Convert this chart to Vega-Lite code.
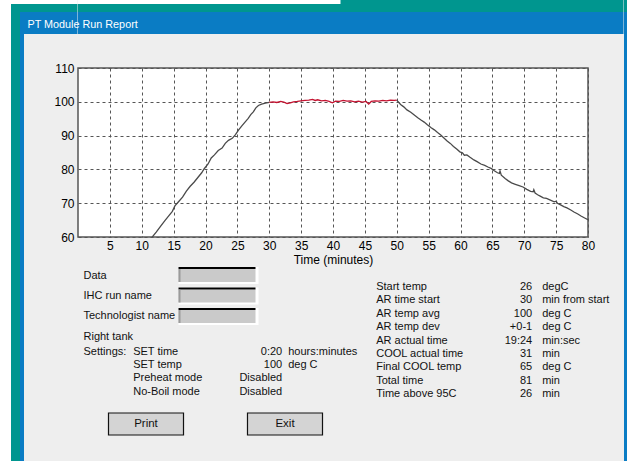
{
  "$schema": "https://vega.github.io/schema/vega-lite/v6.json",
  "padding": 0,
  "background": "#EEEEEE",
  "spacing": 0,
  "bounds": "flush",
  "align": "each",
  "columns": 7,
  "config": {"concat": {"spacing": 0}, "view": {"stroke": null}, "font": "Liberation Sans"},
  "datasets": {
    "temps": [
      {"time": 11.3, "temp": 59.3, "phase": "ramp"}, {"time": 11.65, "temp": 60.0, "phase": "ramp"}, {"time": 12.3, "temp": 61.5, "phase": "ramp"}, {"time": 13.0, "temp": 63.3, "phase": "ramp"}, {"time": 13.6, "temp": 64.8, "phase": "ramp"}, {"time": 14.2, "temp": 66.2, "phase": "ramp"}, {"time": 14.8, "temp": 67.6, "phase": "ramp"}, {"time": 15.2, "temp": 69.2, "phase": "ramp"}, {"time": 15.8, "temp": 70.5, "phase": "ramp"}, {"time": 16.4, "temp": 71.8, "phase": "ramp"}, {"time": 17.0, "temp": 73.6, "phase": "ramp"}, {"time": 17.6, "temp": 75.0, "phase": "ramp"}, {"time": 18.2, "temp": 76.2, "phase": "ramp"}, {"time": 18.8, "temp": 77.6, "phase": "ramp"}, {"time": 19.4, "temp": 79.0, "phase": "ramp"}, {"time": 19.8, "temp": 80.2, "phase": "ramp"}, {"time": 20.4, "temp": 81.6, "phase": "ramp"}, {"time": 20.9, "temp": 83.4, "phase": "ramp"}, {"time": 21.4, "temp": 84.3, "phase": "ramp"}, {"time": 22.0, "temp": 85.6, "phase": "ramp"}, {"time": 22.6, "temp": 86.3, "phase": "ramp"}, {"time": 23.1, "temp": 87.7, "phase": "ramp"}, {"time": 23.6, "temp": 88.6, "phase": "ramp"}, {"time": 24.2, "temp": 89.2, "phase": "ramp"}, {"time": 24.7, "temp": 90.3, "phase": "ramp"}, {"time": 25.2, "temp": 91.7, "phase": "ramp"}, {"time": 25.7, "temp": 92.9, "phase": "ramp"}, {"time": 26.2, "temp": 94.0, "phase": "ramp"}, {"time": 26.7, "temp": 95.1, "phase": "ramp"}, {"time": 27.1, "temp": 96.2, "phase": "ramp"}, {"time": 27.5, "temp": 97.0, "phase": "ramp"}, {"time": 27.9, "temp": 98.2, "phase": "ramp"}, {"time": 28.3, "temp": 98.9, "phase": "ramp"}, {"time": 28.8, "temp": 99.3, "phase": "ramp"}, {"time": 29.4, "temp": 99.6, "phase": "ramp"}, {"time": 30.0, "temp": 99.8, "phase": "ramp"},
      {"time": 30.0, "temp": 99.8, "phase": "hold"}, {"time": 30.6, "temp": 100.0, "phase": "hold"}, {"time": 31.2, "temp": 99.8, "phase": "hold"}, {"time": 31.8, "temp": 100.1, "phase": "hold"}, {"time": 32.3, "temp": 99.9, "phase": "hold"}, {"time": 32.8, "temp": 99.5, "phase": "hold"}, {"time": 33.3, "temp": 99.7, "phase": "hold"}, {"time": 33.8, "temp": 100.0, "phase": "hold"}, {"time": 34.4, "temp": 100.1, "phase": "hold"}, {"time": 35.0, "temp": 100.3, "phase": "hold"}, {"time": 35.6, "temp": 100.4, "phase": "hold"}, {"time": 36.2, "temp": 100.5, "phase": "hold"}, {"time": 36.8, "temp": 100.7, "phase": "hold"}, {"time": 37.2, "temp": 100.4, "phase": "hold"}, {"time": 37.6, "temp": 100.6, "phase": "hold"}, {"time": 38.2, "temp": 100.3, "phase": "hold"}, {"time": 38.8, "temp": 100.4, "phase": "hold"}, {"time": 39.4, "temp": 100.1, "phase": "hold"}, {"time": 39.9, "temp": 99.7, "phase": "hold"}, {"time": 40.4, "temp": 100.2, "phase": "hold"}, {"time": 41.0, "temp": 100.1, "phase": "hold"}, {"time": 41.6, "temp": 100.4, "phase": "hold"}, {"time": 42.2, "temp": 100.2, "phase": "hold"}, {"time": 42.8, "temp": 100.3, "phase": "hold"}, {"time": 43.4, "temp": 100.0, "phase": "hold"}, {"time": 44.0, "temp": 100.2, "phase": "hold"}, {"time": 44.6, "temp": 99.9, "phase": "hold"}, {"time": 45.2, "temp": 100.1, "phase": "hold"}, {"time": 45.6, "temp": 99.3, "phase": "hold"}, {"time": 46.0, "temp": 100.1, "phase": "hold"}, {"time": 46.6, "temp": 100.3, "phase": "hold"}, {"time": 47.2, "temp": 100.2, "phase": "hold"}, {"time": 47.8, "temp": 100.4, "phase": "hold"}, {"time": 48.4, "temp": 100.3, "phase": "hold"}, {"time": 49.0, "temp": 100.5, "phase": "hold"}, {"time": 49.6, "temp": 100.4, "phase": "hold"}, {"time": 50.0, "temp": 100.5, "phase": "hold"},
      {"time": 50.0, "temp": 100.5, "phase": "cool"}, {"time": 50.6, "temp": 99.2, "phase": "cool"}, {"time": 51.1, "temp": 98.5, "phase": "cool"}, {"time": 51.6, "temp": 97.6, "phase": "cool"}, {"time": 52.2, "temp": 96.9, "phase": "cool"}, {"time": 52.7, "temp": 96.2, "phase": "cool"}, {"time": 53.3, "temp": 95.3, "phase": "cool"}, {"time": 53.8, "temp": 94.6, "phase": "cool"}, {"time": 54.3, "temp": 94.0, "phase": "cool"}, {"time": 54.8, "temp": 93.2, "phase": "cool"}, {"time": 55.4, "temp": 92.3, "phase": "cool"}, {"time": 55.9, "temp": 91.7, "phase": "cool"}, {"time": 56.4, "temp": 90.9, "phase": "cool"}, {"time": 56.9, "temp": 90.2, "phase": "cool"}, {"time": 57.4, "temp": 89.3, "phase": "cool"}, {"time": 57.9, "temp": 88.4, "phase": "cool"}, {"time": 58.4, "temp": 87.7, "phase": "cool"}, {"time": 58.9, "temp": 86.8, "phase": "cool"}, {"time": 59.4, "temp": 86.0, "phase": "cool"}, {"time": 59.9, "temp": 85.2, "phase": "cool"}, {"time": 60.3, "temp": 84.9, "phase": "cool"}, {"time": 60.6, "temp": 84.2, "phase": "cool"}, {"time": 61.0, "temp": 84.3, "phase": "cool"}, {"time": 61.5, "temp": 83.6, "phase": "cool"}, {"time": 62.1, "temp": 82.8, "phase": "cool"}, {"time": 62.6, "temp": 82.3, "phase": "cool"}, {"time": 63.2, "temp": 81.6, "phase": "cool"}, {"time": 63.8, "temp": 81.2, "phase": "cool"}, {"time": 64.3, "temp": 80.7, "phase": "cool"}, {"time": 64.8, "temp": 80.3, "phase": "cool"}, {"time": 65.3, "temp": 79.6, "phase": "cool"}, {"time": 65.8, "temp": 79.0, "phase": "cool"}, {"time": 66.1, "temp": 78.8, "phase": "cool"}, {"time": 66.2, "temp": 79.5, "phase": "cool"}, {"time": 66.4, "temp": 78.3, "phase": "cool"}, {"time": 67.0, "temp": 77.3, "phase": "cool"}, {"time": 67.5, "temp": 76.6, "phase": "cool"}, {"time": 68.0, "temp": 76.0, "phase": "cool"}, {"time": 68.6, "temp": 75.6, "phase": "cool"}, {"time": 69.2, "temp": 75.2, "phase": "cool"}, {"time": 69.8, "temp": 74.8, "phase": "cool"}, {"time": 70.4, "temp": 74.1, "phase": "cool"}, {"time": 71.0, "temp": 73.5, "phase": "cool"}, {"time": 71.4, "temp": 73.4, "phase": "cool"}, {"time": 71.5, "temp": 74.0, "phase": "cool"}, {"time": 71.7, "temp": 73.0, "phase": "cool"}, {"time": 72.1, "temp": 72.5, "phase": "cool"}, {"time": 72.5, "temp": 72.1, "phase": "cool"}, {"time": 73.0, "temp": 71.6, "phase": "cool"}, {"time": 73.5, "temp": 71.4, "phase": "cool"}, {"time": 74.1, "temp": 70.9, "phase": "cool"}, {"time": 74.7, "temp": 70.4, "phase": "cool"}, {"time": 75.0, "temp": 70.6, "phase": "cool"}, {"time": 75.2, "temp": 70.0, "phase": "cool"}, {"time": 75.7, "temp": 69.5, "phase": "cool"}, {"time": 76.2, "temp": 69.0, "phase": "cool"}, {"time": 76.7, "temp": 68.6, "phase": "cool"}, {"time": 77.3, "temp": 68.0, "phase": "cool"}, {"time": 77.8, "temp": 67.4, "phase": "cool"}, {"time": 78.4, "temp": 66.8, "phase": "cool"}, {"time": 78.9, "temp": 66.2, "phase": "cool"}, {"time": 79.4, "temp": 65.7, "phase": "cool"}, {"time": 80.0, "temp": 65.1, "phase": "cool"}
    ],
    "fields": [{"r": 0, "label": "Data"}, {"r": 1, "label": "IHC run name"}, {"r": 2, "label": "Technologist name"}],
    "tank": [{"r": 0, "label": "Right tank"}, {"r": 1, "label": "Settings:"}],
    "settings": [
      {"r": 0, "setting": "SET time", "value": "0:20", "unit": "hours:minutes"},
      {"r": 1, "setting": "SET temp", "value": "100", "unit": "deg C"},
      {"r": 2, "setting": "Preheat mode", "value": "Disabled", "unit": ""},
      {"r": 3, "setting": "No-Boil mode", "value": "Disabled", "unit": ""}
    ],
    "stats": [
      {"r": 0, "label": "Start temp", "value": "26", "unit": "degC"},
      {"r": 1, "label": "AR time start", "value": "30", "unit": "min from start"},
      {"r": 2, "label": "AR temp avg", "value": "100", "unit": "deg C"},
      {"r": 3, "label": "AR temp dev", "value": "+0-1", "unit": "deg C"},
      {"r": 4, "label": "AR actual time", "value": "19:24", "unit": "min:sec"},
      {"r": 5, "label": "COOL actual time", "value": "31", "unit": "min"},
      {"r": 6, "label": "Final COOL temp", "value": "65", "unit": "deg C"},
      {"r": 7, "label": "Total time", "value": "81", "unit": "min"},
      {"r": 8, "label": "Time above 95C", "value": "26", "unit": "min"}
    ],
    "buttons": [{"b": "Print"}, {"b": "Exit"}],
    "window": [{"title": "PT Module Run Report"}],
    "desktop": [{"part": "desktop"}]
  },
  "concat": [
    {"width": 11, "height": 4, "data": {"values": []}, "mark": "point", "view": {"fill": "#FFFFFF", "stroke": null}},
    {"width": 9, "height": 4, "data": {"values": []}, "mark": "point", "view": {"fill": "#FFFFFF", "stroke": null}},
    {"width": 4, "height": 4, "data": {"values": []}, "mark": "point", "view": {"fill": "#FFFFFF", "stroke": null}},
    {"width": 53.5, "height": 4, "data": {"values": []}, "mark": "point", "view": {"fill": "#FFFFFF", "stroke": null}},
    {"width": 510, "height": 4, "data": {"name": "desktop"}, "view": {"fill": "#FFFFFF", "stroke": null},
     "mark": {"type": "rect", "color": "#00968F"},
     "encoding": {
       "x": {"datum": 0, "type": "quantitative", "scale": {"domain": [0, 1], "range": [262.5, 510]}, "axis": null},
       "x2": {"datum": 1},
       "y": {"datum": 0, "type": "quantitative", "scale": {"domain": [0, 1], "range": [0, 4]}, "axis": null},
       "y2": {"datum": 1}
     }},
    {"width": 35.5, "height": 4, "data": {"values": []}, "mark": "point", "view": {"fill": "#00968F", "stroke": null}},
    {"width": 4, "height": 4, "data": {"values": []}, "mark": "point", "view": {"fill": "#00968F", "stroke": null}},

    {"width": 11, "height": 8, "data": {"values": []}, "mark": "point", "view": {"fill": "#FFFFFF", "stroke": null}},
    {"width": 9, "height": 8, "data": {"values": []}, "mark": "point", "view": {"fill": "#00968F", "stroke": null}},
    {"width": 4, "height": 8, "data": {"values": []}, "mark": "point", "view": {"fill": "#00968F", "stroke": null}},
    {"width": 53.5, "height": 8, "data": {"values": []}, "mark": "point", "view": {"fill": "#00968F", "stroke": null}},
    {"width": 510, "height": 8, "data": {"values": []}, "mark": "point", "view": {"fill": "#00968F", "stroke": null}},
    {"width": 35.5, "height": 8, "data": {"values": []}, "mark": "point", "view": {"fill": "#00968F", "stroke": null}},
    {"width": 4, "height": 8, "data": {"values": []}, "mark": "point", "view": {"fill": "#00968F", "stroke": null}},

    {"width": 11, "height": 22, "data": {"values": []}, "mark": "point", "view": {"fill": "#FFFFFF", "stroke": null}},
    {"width": 9, "height": 22, "data": {"values": []}, "mark": "point", "view": {"fill": "#00968F", "stroke": null}},
    {"width": 4, "height": 22, "data": {"values": []}, "mark": "point", "view": {"fill": "#0A7CC4", "stroke": null}},
    {"width": 53.5, "height": 22, "data": {"values": []}, "mark": "point", "view": {"fill": "#0A7CC4", "stroke": null}},
    {"width": 510, "height": 22, "data": {"name": "window"},
     "mark": {"type": "text", "align": "left", "baseline": "middle", "color": "#FFFFFF", "fontSize": 10.8},
     "encoding": {
       "text": {"field": "title"},
       "x": {"field": "title", "type": "nominal", "scale": {"type": "point", "range": [-50.5, -50.5]}, "axis": null},
       "y": {"field": "title", "type": "nominal", "scale": {"type": "point", "range": [13, 13]}, "axis": null}
     },
     "view": {"fill": "#0A7CC4", "stroke": null}},
    {"width": 35.5, "height": 22, "data": {"values": []}, "mark": "point", "view": {"fill": "#0A7CC4", "stroke": null}},
    {"width": 4, "height": 22, "data": {"values": []}, "mark": "point", "view": {"fill": "#0A7CC4", "stroke": null}},

    {"width": 11, "height": 34, "data": {"values": []}, "mark": "point", "view": {"fill": "#FFFFFF", "stroke": null}},
    {"width": 9, "height": 34, "data": {"values": []}, "mark": "point", "view": {"fill": "#00968F", "stroke": null}},
    {"width": 4, "height": 34, "data": {"values": []}, "mark": "point", "view": {"fill": "#0A7CC4", "stroke": null}},
    {"width": 53.5, "height": 34, "data": {"values": []}, "mark": "point", "view": {"stroke": null}},
    {"width": 510, "height": 34, "data": {"values": []}, "mark": "point", "view": {"stroke": null}},
    {"width": 35.5, "height": 34, "data": {"values": []}, "mark": "point", "view": {"stroke": null}},
    {"width": 4, "height": 34, "data": {"values": []}, "mark": "point", "view": {"fill": "#0A7CC4", "stroke": null}},

    {"width": 11, "height": 169, "data": {"values": []}, "mark": "point", "view": {"fill": "#FFFFFF", "stroke": null}},
    {"width": 9, "height": 169, "data": {"values": []}, "mark": "point", "view": {"fill": "#00968F", "stroke": null}},
    {"width": 4, "height": 169, "data": {"values": []}, "mark": "point", "view": {"fill": "#0A7CC4", "stroke": null}},
    {"width": 53.5, "height": 169, "data": {"values": []}, "mark": "point", "view": {"stroke": null}},
    {
      "width": 510, "height": 169,
      "data": {"name": "temps"},
      "mark": {"type": "line", "clip": true, "strokeWidth": 1.3},
      "encoding": {
        "x": {"field": "time", "type": "quantitative",
          "scale": {"domain": [0, 80], "nice": false, "zero": false},
          "axis": {"title": "Time (minutes)", "values": [5, 10, 15, 20, 25, 30, 35, 40, 45, 50, 55, 60, 65, 70, 75, 80],
            "domain": false, "ticks": false, "grid": true, "gridColor": "#555555", "gridDash": [3, 3], "gridWidth": 1, "gridOpacity": 1,
            "labelFontSize": 12, "labelColor": "#000000", "labelPadding": 3, "labelFlush": false, "labelOverlap": false,
            "titleFontSize": 12, "titleFontWeight": "normal", "titleColor": "#000000", "titlePadding": 3}},
        "y": {"field": "temp", "type": "quantitative",
          "scale": {"domain": [60, 110], "nice": false, "zero": false},
          "axis": {"title": null, "values": [60, 70, 80, 90, 100, 110],
            "domain": false, "ticks": false, "grid": true, "gridColor": "#555555", "gridDash": [3, 3], "gridWidth": 1, "gridOpacity": 1,
            "labelFontSize": 12, "labelColor": "#000000", "labelPadding": 4}},
        "color": {"field": "phase", "type": "nominal", "scale": {"domain": ["ramp", "hold", "cool"], "range": ["#4A4A4A", "#C41230", "#4A4A4A"]}, "legend": null}
      },
      "view": {"fill": "#FFFFFF", "stroke": "#555555", "strokeWidth": 1.5}
    },
    {"width": 35.5, "height": 169, "data": {"values": []}, "mark": "point", "view": {"stroke": null}},
    {"width": 4, "height": 169, "data": {"values": []}, "mark": "point", "view": {"fill": "#0A7CC4", "stroke": null}},

    {"width": 11, "height": 224, "data": {"values": []}, "mark": "point", "view": {"fill": "#FFFFFF", "stroke": null}},
    {"width": 9, "height": 224, "data": {"values": []}, "mark": "point", "view": {"fill": "#00968F", "stroke": null}},
    {"width": 4, "height": 224, "data": {"values": []}, "mark": "point", "view": {"fill": "#0A7CC4", "stroke": null}},
    {"width": 53.5, "height": 224, "data": {"values": []}, "mark": "point", "view": {"stroke": null}},
    {
      "width": 510, "height": 224,
      "view": {"stroke": null},
      "resolve": {"scale": {"x": "independent", "y": "independent"}},
      "layer": [
        {
          "data": {"name": "fields"},
          "encoding": {
            "x": {"datum": 0, "type": "quantitative", "scale": {"domain": [0, 1], "range": [100.5, 180.5]}, "axis": null},
            "x2": {"datum": 1},
            "y": {"field": "r", "type": "quantitative", "scale": {"domain": [0, 2], "range": [30, 71], "nice": false, "zero": false}, "axis": null},
            "y2": {"field": "r"}
          },
          "layer": [
            {"mark": {"type": "rect", "color": "#FFFFFF", "y2Offset": 17}},
            {"mark": {"type": "rect", "color": "#CACACA", "yOffset": 2, "y2Offset": 15, "x2Offset": -3}},
            {"mark": {"type": "rect", "color": "#000000", "y2Offset": 2, "x2Offset": -3}},
            {"mark": {"type": "rect", "color": "#9A9A9A", "yOffset": 2, "y2Offset": 15, "x2Offset": -78}}
          ]
        },
        {
          "data": {"name": "fields"},
          "mark": {"type": "text", "align": "left", "baseline": "middle", "fontSize": 11, "color": "#111111"},
          "encoding": {
            "text": {"field": "label"},
            "x": {"field": "label", "type": "nominal", "scale": {"type": "point", "range": [5.5, 5.5]}, "axis": null},
            "y": {"field": "r", "type": "quantitative", "scale": {"domain": [0, 2], "range": [38.7, 79], "nice": false, "zero": false}, "axis": null}
          }
        },
        {
          "data": {"name": "tank"},
          "mark": {"type": "text", "align": "left", "baseline": "middle", "fontSize": 11, "color": "#111111"},
          "encoding": {
            "text": {"field": "label"},
            "x": {"field": "label", "type": "nominal", "scale": {"type": "point", "range": [5.5, 5.5]}, "axis": null},
            "y": {"field": "r", "type": "quantitative", "scale": {"domain": [0, 1], "range": [100.3, 114.7], "nice": false, "zero": false}, "axis": null}
          }
        },
        {
          "data": {"name": "settings"},
          "mark": {"type": "text", "align": "left", "baseline": "middle", "fontSize": 11, "color": "#111111"},
          "encoding": {
            "text": {"field": "setting"},
            "x": {"field": "setting", "type": "nominal", "scale": {"type": "point", "range": [55.2, 55.2]}, "axis": null},
            "y": {"field": "r", "type": "quantitative", "scale": {"domain": [0, 3], "range": [114.7, 154.7], "nice": false, "zero": false}, "axis": null}
          }
        },
        {
          "data": {"name": "settings"},
          "mark": {"type": "text", "align": "right", "baseline": "middle", "fontSize": 11, "color": "#111111"},
          "encoding": {
            "text": {"field": "value"},
            "x": {"field": "value", "type": "nominal", "scale": {"type": "point", "range": [204.2, 204.2]}, "axis": null},
            "y": {"field": "r", "type": "quantitative", "scale": {"domain": [0, 3], "range": [114.7, 154.7], "nice": false, "zero": false}, "axis": null}
          }
        },
        {
          "data": {"name": "settings"},
          "mark": {"type": "text", "align": "left", "baseline": "middle", "fontSize": 11, "color": "#111111"},
          "encoding": {
            "text": {"field": "unit"},
            "x": {"field": "unit", "type": "nominal", "scale": {"type": "point", "range": [210.2, 210.2]}, "axis": null},
            "y": {"field": "r", "type": "quantitative", "scale": {"domain": [0, 3], "range": [114.7, 154.7], "nice": false, "zero": false}, "axis": null}
          }
        },
        {
          "data": {"name": "stats"},
          "mark": {"type": "text", "align": "left", "baseline": "middle", "fontSize": 11, "color": "#111111"},
          "encoding": {
            "text": {"field": "label"},
            "x": {"field": "label", "type": "nominal", "scale": {"type": "point", "range": [298.2, 298.2]}, "axis": null},
            "y": {"field": "r", "type": "quantitative", "scale": {"domain": [0, 8], "range": [49.7, 157.3], "nice": false, "zero": false}, "axis": null}
          }
        },
        {
          "data": {"name": "stats"},
          "mark": {"type": "text", "align": "right", "baseline": "middle", "fontSize": 11, "color": "#111111"},
          "encoding": {
            "text": {"field": "value"},
            "x": {"field": "value", "type": "nominal", "scale": {"type": "point", "range": [454.2, 454.2]}, "axis": null},
            "y": {"field": "r", "type": "quantitative", "scale": {"domain": [0, 8], "range": [49.7, 157.3], "nice": false, "zero": false}, "axis": null}
          }
        },
        {
          "data": {"name": "stats"},
          "mark": {"type": "text", "align": "left", "baseline": "middle", "fontSize": 11, "color": "#111111"},
          "encoding": {
            "text": {"field": "unit"},
            "x": {"field": "unit", "type": "nominal", "scale": {"type": "point", "range": [464.2, 464.2]}, "axis": null},
            "y": {"field": "r", "type": "quantitative", "scale": {"domain": [0, 8], "range": [49.7, 157.3], "nice": false, "zero": false}, "axis": null}
          }
        },
        {
          "data": {"name": "buttons"},
          "encoding": {
            "x": {"field": "b", "type": "nominal", "scale": {"type": "band", "domain": ["Print", "Exit"], "range": [30.5, 244.5], "paddingInner": 0.4604, "paddingOuter": 0}, "axis": null}
          },
          "layer": [
            {"mark": {"type": "rect", "color": "#D4D4D4", "stroke": "#111111", "strokeWidth": 1.2},
             "encoding": {
               "y": {"datum": 0, "type": "quantitative", "scale": {"domain": [0, 1], "range": [176, 198]}, "axis": null},
               "y2": {"datum": 1}
             }},
            {"mark": {"type": "text", "align": "center", "baseline": "middle", "fontSize": 11.5, "color": "#111111"},
             "encoding": {
               "text": {"field": "b"},
               "x": {"field": "b", "type": "nominal", "bandPosition": 0.5},
               "y": {"datum": 0.5, "type": "quantitative"}
             }}
          ]
        }
      ]
    },
    {"width": 35.5, "height": 224, "data": {"values": []}, "mark": "point", "view": {"stroke": null}},
    {"width": 4, "height": 224, "data": {"values": []}, "mark": "point", "view": {"fill": "#0A7CC4", "stroke": null}}
  ]
}
